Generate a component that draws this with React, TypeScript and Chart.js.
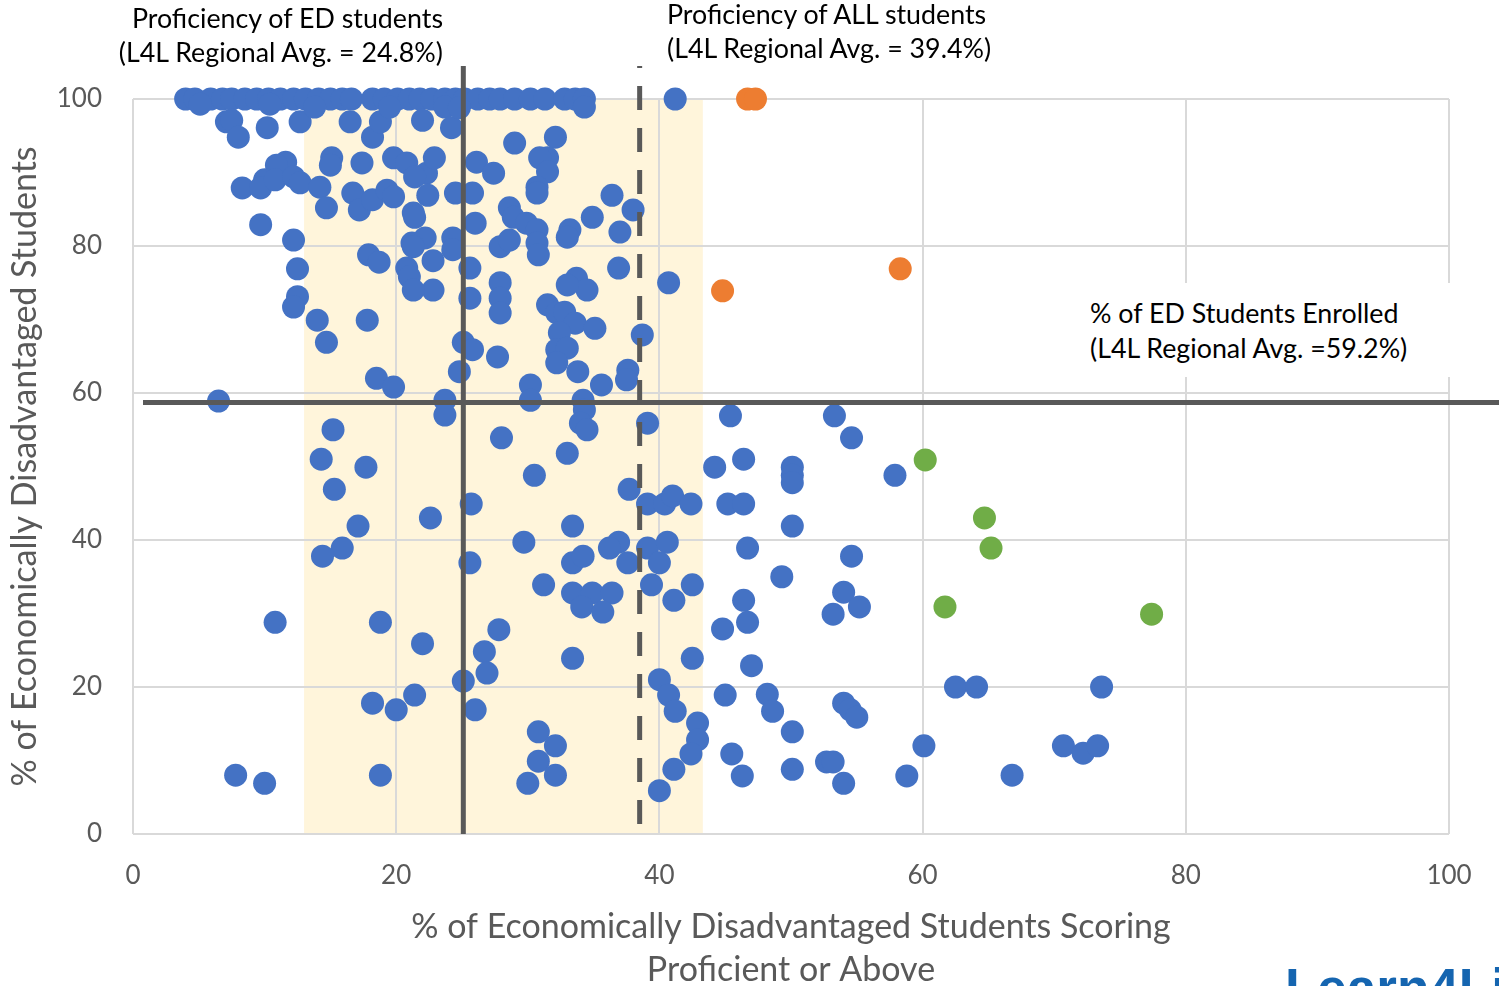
import React, { useEffect, useRef } from "react";
import { Chart, registerables } from "chart.js";

Chart.register(...registerables);

// ---------- DATA ----------
const xTickValues = [0, 20, 40, 60, 80, 100];
const yTickValues = [0, 20, 40, 60, 80, 100];

const edProficiencyLine = 25.1; // drawn position of "ED students" average
const allProficiencyLine = 38.5; // drawn position of "ALL students" average
const edEnrolledLine = 58.7; // drawn position of "% ED enrolled" average
const bandStart = 13.0;
const bandEnd = 43.3;

const blueTopRowX = [4.0, 4.7, 5.9, 6.8, 7.5, 8.5, 9.4, 10.3, 11.2, 12.2, 13.1, 14.1, 15.0, 15.9, 16.6, 18.2, 19.1, 20.1, 21.0, 21.8, 22.7, 23.7, 24.5, 25.2, 26.2, 27.1, 27.9, 29.0, 30.2, 31.3, 32.8, 33.6, 34.3, 41.2];

const bluePoints: [number, number][] = [
  [5.1, 99.3], [7.1, 96.9], [7.5, 97.1], [8.0, 94.8], [10.2, 96.1], [10.4, 99.3], [12.7, 96.9], [13.8, 98.9], [16.5, 96.9],
  [18.2, 94.8], [18.8, 96.9], [19.5, 98.9], [22.0, 97.1], [23.7, 98.9], [24.2, 96.1], [24.8, 98.8], [34.3, 98.9],
  [11.6, 91.4], [10.9, 91.0], [10.0, 89.0], [8.3, 87.9], [9.7, 87.9], [10.8, 89.0], [12.2, 89.4], [12.7, 88.6], [14.2, 88.0],
  [14.7, 85.2], [15.1, 92.0], [15.0, 91.0], [16.7, 87.2], [17.2, 84.9], [17.4, 91.3], [18.2, 86.3], [19.3, 87.6], [19.8, 92.0],
  [19.8, 86.7], [20.8, 91.3], [21.3, 84.5], [22.3, 89.9], [21.4, 89.4], [22.4, 86.9], [22.9, 92.0], [21.4, 83.9], [21.2, 80.4],
  [22.2, 81.1], [22.8, 78.0], [22.8, 74.0], [21.3, 79.9], [20.8, 77.0], [21.0, 75.8], [21.3, 74.0], [17.9, 78.8], [18.7, 77.8],
  [9.7, 82.9], [12.2, 80.8], [12.5, 76.9], [12.5, 73.1], [12.2, 71.7], [14.0, 69.9], [14.7, 66.9], [17.8, 69.9], [18.5, 62.0],
  [19.8, 60.8], [6.5, 58.9],
  [24.3, 81.1], [24.3, 79.5], [24.5, 87.2], [25.8, 87.2], [26.1, 91.4], [27.4, 89.9], [26.0, 83.1], [25.6, 77.0], [25.6, 72.9],
  [27.9, 75.0], [27.9, 72.9], [27.9, 70.9], [25.1, 66.9], [25.8, 65.9], [27.7, 64.9], [24.8, 62.9], [23.7, 59.0], [23.7, 57.0],
  [29.0, 94.0], [32.1, 94.8], [31.5, 92.0], [30.9, 92.0], [31.5, 90.1], [30.7, 88.0], [30.7, 87.2], [36.4, 86.9], [38.0, 84.9],
  [34.9, 83.9], [37.0, 81.9], [33.2, 82.2], [33.0, 81.2], [28.6, 85.2], [28.9, 83.9], [29.9, 83.1], [30.7, 82.2], [30.7, 80.4],
  [27.9, 79.9], [30.8, 78.8], [28.6, 80.8], [36.9, 77.0], [40.7, 75.0], [31.5, 72.0], [32.2, 70.9], [32.8, 71.0], [33.6, 69.5],
  [35.1, 68.8], [33.7, 75.6], [34.5, 74.0], [33.0, 74.7], [38.7, 67.9], [32.4, 68.2], [32.2, 65.9], [33.0, 66.1], [32.2, 64.1],
  [33.8, 62.9], [35.6, 61.1], [37.6, 63.1], [37.5, 61.8], [30.2, 61.1], [30.2, 59.0], [34.2, 59.0], [34.3, 57.7], [34.0, 55.9],
  [34.5, 55.0],
  [39.1, 55.9], [45.4, 56.9], [53.3, 56.9], [54.6, 53.9], [44.2, 49.9], [46.4, 51.0], [50.1, 49.9], [50.1, 48.8], [50.1, 47.8],
  [57.9, 48.8], [37.7, 46.9], [39.1, 44.9], [40.4, 44.9], [41.0, 46.0], [42.4, 44.9], [45.2, 44.9], [46.4, 44.9], [50.1, 41.9],
  [46.7, 38.9], [49.3, 35.0], [54.6, 37.8], [36.9, 39.7], [36.2, 38.9], [39.1, 38.9], [40.6, 39.7], [40.0, 36.9], [37.6, 36.9],
  [39.4, 33.9], [42.5, 33.9], [41.1, 31.8], [46.4, 31.8], [46.7, 28.8], [44.8, 27.9], [54.0, 32.9], [55.2, 30.9], [53.2, 29.9],
  [42.5, 23.9], [47.0, 22.9], [40.0, 21.0], [40.7, 18.9], [41.2, 16.7], [42.9, 15.1], [42.9, 12.8], [42.4, 10.9], [41.1, 8.8],
  [40.0, 5.9], [45.0, 18.9], [48.2, 19.0], [48.6, 16.7], [50.1, 13.9], [45.5, 10.9], [46.3, 7.9], [50.1, 8.8], [54.0, 17.8],
  [54.5, 16.9], [55.0, 15.9], [52.7, 9.8], [53.2, 9.8], [54.0, 6.9], [58.8, 7.9], [60.1, 12.0], [62.5, 20.0], [64.1, 20.0],
  [66.8, 8.0], [70.7, 12.0], [72.2, 11.0], [73.3, 12.0], [73.6, 20.0],
  [15.2, 55.0], [14.3, 51.0], [17.7, 49.9], [15.3, 46.9], [17.1, 41.9], [15.9, 38.9], [14.4, 37.8], [22.6, 43.0], [25.7, 44.9],
  [25.6, 36.9], [28.0, 53.9], [30.5, 48.8], [33.0, 51.8], [29.7, 39.7], [33.4, 41.9], [31.2, 33.9], [33.4, 36.9], [34.2, 37.8],
  [33.4, 32.8], [34.9, 32.8], [36.4, 32.8], [34.1, 30.9], [35.7, 30.2], [10.8, 28.8], [18.8, 28.8], [22.0, 25.9], [27.8, 27.8],
  [26.7, 24.8], [26.9, 21.9], [25.1, 20.8], [18.2, 17.8], [20.0, 16.9], [21.4, 18.9], [26.0, 16.9], [30.8, 13.9], [32.1, 12.0],
  [30.8, 9.9], [32.1, 8.0], [30.0, 6.9], [33.4, 23.9], [7.8, 8.0], [10.0, 6.9], [18.8, 8.0],
];

const orangePoints: [number, number][] = [[46.7, 100], [47.3, 100], [44.8, 73.9], [58.3, 76.9]];
const greenPoints: [number, number][] = [[60.2, 50.9], [64.7, 43.0], [65.2, 38.9], [61.7, 30.9], [77.4, 29.9]];

const xTitleLines = ["% of Economically Disadvantaged Students Scoring", "Proficient or Above"];
const yTitle = "% of Economically Disadvantaged Students";

// ---------- STYLE ----------
const FONT = "Lato, 'Open Sans', sans-serif";
const GRAY_TEXT = "#595959";
const REF_COLOR = "#595959";

const refPlugin = {
  id: "refLines",
  beforeDraw(chart: any) {
    const { ctx, chartArea, scales } = chart;
    const x = scales.x;
    ctx.save();
    ctx.fillStyle = "#FFF5DB";
    const l = x.getPixelForValue(bandStart);
    const r = x.getPixelForValue(bandEnd);
    ctx.fillRect(l, chartArea.top, r - l, chartArea.bottom - chartArea.top);
    ctx.restore();
  },
  afterDatasetsDraw(chart: any) {
    const { ctx, chartArea, scales, width } = chart;
    const x = scales.x;
    const y = scales.y;
    ctx.save();
    ctx.strokeStyle = REF_COLOR;
    ctx.lineWidth = 5;
    ctx.lineCap = "butt";
    const hy = y.getPixelForValue(edEnrolledLine);
    ctx.beginPath();
    ctx.moveTo(chartArea.left + 10, hy);
    ctx.lineTo(width, hy);
    ctx.stroke();
    const sx = x.getPixelForValue(edProficiencyLine);
    ctx.beginPath();
    ctx.moveTo(sx, chartArea.top - 33);
    ctx.lineTo(sx, chartArea.bottom);
    ctx.stroke();
    const dx = x.getPixelForValue(allProficiencyLine);
    ctx.setLineDash([24, 18]);
    ctx.lineDashOffset = 22;
    ctx.beginPath();
    ctx.moveTo(dx, chartArea.top - 33);
    ctx.lineTo(dx, chartArea.bottom);
    ctx.stroke();
    ctx.restore();
  },
};

function ScatterChart() {
  const ref = useRef<HTMLCanvasElement | null>(null);
  useEffect(() => {
    if (!ref.current) return;
    const blueData = [
      ...blueTopRowX.map((v) => ({ x: v, y: 100 })),
      ...bluePoints.map(([a, b]) => ({ x: a, y: b })),
    ];
    const chart = new Chart(ref.current, {
      type: "scatter",
      data: {
        datasets: [
          {
            label: "Schools",
            data: blueData,
            backgroundColor: "#4472C4",
            borderWidth: 0,
            pointRadius: 11.5,
            clip: false as any,
          },
          {
            label: "Orange",
            data: orangePoints.map(([a, b]) => ({ x: a, y: b })),
            backgroundColor: "#ED7D31",
            borderWidth: 0,
            pointRadius: 11.5,
            clip: false as any,
          },
          {
            label: "Green",
            data: greenPoints.map(([a, b]) => ({ x: a, y: b })),
            backgroundColor: "#70AD47",
            borderWidth: 0,
            pointRadius: 11.5,
            clip: false as any,
          },
        ],
      },
      options: {
        responsive: false,
        animation: false,
        devicePixelRatio: 1,
        layout: { padding: { top: 99, right: 50, left: 0, bottom: 0 } },
        plugins: { legend: { display: false }, tooltip: { enabled: false } },
        scales: {
          x: {
            type: "linear",
            min: 0,
            max: 100,
            afterBuildTicks: (s: any) => {
              s.ticks = xTickValues.map((v) => ({ value: v }));
            },
            afterFit: (s: any) => {
              s.height = 176;
            },
            grid: { color: "#d9d9d9", lineWidth: 2, drawTicks: false },
            border: { display: false },
            ticks: { color: GRAY_TEXT, font: { family: FONT, size: 26 }, padding: 26, maxRotation: 0 },
            title: {
              display: true,
              text: xTitleLines,
              color: GRAY_TEXT,
              font: { family: FONT, size: 34, lineHeight: 1.265 },
              padding: { top: 0, bottom: 18 },
            },
          },
          y: {
            type: "linear",
            min: 0,
            max: 100,
            afterBuildTicks: (s: any) => {
              s.ticks = yTickValues.map((v) => ({ value: v }));
            },
            afterFit: (s: any) => {
              s.width = 133;
            },
            grid: { color: "#d9d9d9", lineWidth: 2, drawTicks: false },
            border: { display: false },
            ticks: { color: GRAY_TEXT, font: { family: FONT, size: 26 }, padding: 31 },
            title: {
              display: true,
              text: yTitle,
              color: GRAY_TEXT,
              font: { family: FONT, size: 34, lineHeight: 1.2 },
              padding: { top: 5, bottom: 0 },
            },
          },
        },
      },
      plugins: [refPlugin],
    });
    return () => chart.destroy();
  }, []);
  return <canvas ref={ref} width={1499} height={1010} style={{ position: "absolute", left: 0, top: 0 }} />;
}

const annoStyle: React.CSSProperties = {
  position: "absolute",
  fontFamily: FONT,
  fontSize: 26.8,
  lineHeight: "34px",
  color: "#000",
  whiteSpace: "nowrap",
};

export default function App() {
  return (
    <div
      style={{
        position: "fixed",
        left: 0,
        top: 0,
        width: 1499,
        height: 986,
        overflow: "hidden",
        background: "#fff",
      }}
    >
      <ScatterChart />
      <div style={{ ...annoStyle, right: 1499 - 443, top: 1, textAlign: "right" }}>
        Proficiency of ED students
        <br />
        (L4L Regional Avg. = 24.8%)
      </div>
      <div style={{ ...annoStyle, left: 667, top: -3 }}>
        Proficiency of ALL students
        <br />
        (L4L Regional Avg. = 39.4%)
      </div>
      <div
        style={{
          position: "absolute",
          left: 1060,
          top: 283,
          width: 439,
          height: 94,
          background: "#fff",
        }}
      >
        <div style={{ ...annoStyle, left: 30, top: 13, lineHeight: "35px" }}>
          % of ED Students Enrolled
          <br />
          (L4L Regional Avg. =59.2%)
        </div>
      </div>
      <div
        style={{
          position: "absolute",
          left: 1285,
          top: 961,
          fontFamily: "'Liberation Sans', Arial, sans-serif",
          fontWeight: 700,
          fontSize: 53,
          lineHeight: "53px",
          color: "#1565B0",
          whiteSpace: "nowrap",
        }}
      >
        Learn4Life
      </div>
    </div>
  );
}
